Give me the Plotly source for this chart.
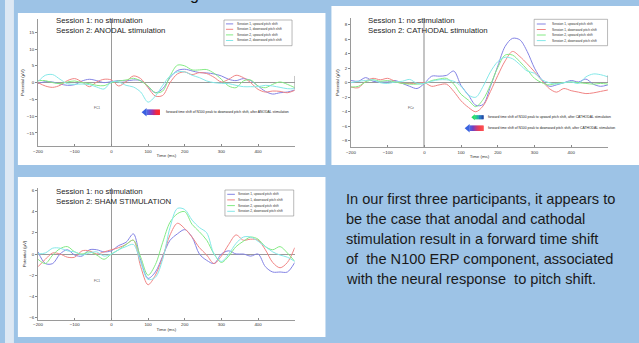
import plotly.graph_objects as go

W, H = 639, 343

# ---------------- data ----------------
time_ms = list(range(-200, 501, 20))

anodal_s1_up = [-0.3, 0.3, 0.2, -0.4, -0.8, -0.6, 0.5, 1.0, 0.6, 0.0, 0.3, 0.6, 0.5, 0.8, 0.6, -1.2, -3.0, -1.8,
                1.5, 3.6, 4.0, 3.5, 3.0, 2.9, 2.6, 2.0, 1.0, 0.6, 1.2, 0.6, -1.0, -2.6, -3.4, -3.0, -2.8, -2.2]
anodal_s1_down = [0.0, -1.0, -1.4, -0.8, 0.6, 1.2, 0.2, -1.2, 0.2, 1.0, 0.8, -1.0, 0.3, 2.0, 1.2, -1.5, -4.0, -3.8,
                  0.0, 2.6, 3.2, 2.4, 3.0, 2.7, 1.6, 0.2, 1.0, 2.2, 1.5, 0.0, -2.0, -2.8, -2.5, -2.6, -3.0, -2.3]
anodal_s2_up = [0.6, 0.6, 0.0, -0.3, 0.2, 0.5, 0.0, -0.3, -0.8, -0.9, 0.0, 0.5, 0.8, 1.3, 0.5, -1.0, -3.0, -2.5,
                2.0, 5.2, 5.0, 3.8, 3.8, 3.9, 2.8, 1.0, -1.0, -1.5, 0.5, 0.8, -1.0, -1.5, -0.5, 0.2, -0.5, -1.5]
anodal_s2_down = [0.3, 2.2, 2.4, 1.0, -0.3, -0.5, -0.4, -0.6, -1.3, -1.9, 0.2, 0.2, -0.8, -1.3, -2.8, -5.8, -4.0, -0.8,
                  2.0, 3.2, 3.2, 2.2, 1.5, 0.5, 0.0, -0.2, -0.3, -0.8, -1.2, -1.2, -1.2, -0.8, -1.0, -1.4, -1.8, -1.8]

cathodal_s1_up = [0.3, 0.2, 0.7, 0.2, 0.1, 0.1, 0.3, -0.1, -0.5, -0.8, -0.1, 0.9, 0.9, 1.0, 1.6, -0.4, -1.7, -3.1,
                  -3.0, -0.5, 2.3, 5.0, 6.1, 5.9, 4.3, 2.0, 0.4, -0.5, -0.3, 0.0, 0.3, 0.1, 0.5, -0.2, -0.5, -0.3]
cathodal_s1_down = [-0.6, -0.7, 0.2, 0.6, 0.4, 0.6, 0.2, -0.1, -0.1, -0.1, 0.0, -0.5, -0.3, -0.2, -1.2, -2.5, -3.4, -4.0,
                    -3.2, -1.2, 1.0, 3.0, 4.3, 3.6, 2.6, 1.5, 0.3, -0.8, -1.3, -0.8, -1.1, -1.3, -1.5, -1.4, -1.2, -1.0]
cathodal_s2_up = [-0.6, -0.5, 0.1, 0.4, 0.2, 0.3, 0.1, -0.1, -0.2, -0.2, -0.1, 0.3, 0.5, 0.6, -0.2, -1.6, -2.4, -3.3,
                  -2.3, -0.3, 2.1, 3.8, 3.8, 2.9, 1.8, 0.6, 0.0, -0.3, -0.1, 0.0, 0.1, 0.0, -0.1, -0.2, -0.1, -0.2]
cathodal_s2_down = [0.0, 0.2, 0.3, 0.4, 0.0, -0.1, 0.1, 0.2, 0.45, -0.1, -0.1, 0.2, 0.4, 0.4, 0.2, -0.5, -1.7, -2.0,
                    -0.5, 1.5, 2.9, 3.5, 3.3, 2.5, 1.6, 1.3, 0.4, 0.0, -0.2, 0.0, 0.1, -0.1, 0.8, 1.2, 1.1, 0.8]

sham_s1_up = [0.2, -0.9, -0.9, 0.0, 0.4, -0.1, -0.2, 0.4, 0.4, 0.2, 0.3, 0.8, 1.1, 1.9, -0.6, -2.3, -1.7, -0.2,
              1.3, 1.9, 2.3, 1.6, 0.0, -0.6, -0.9, 0.0, 0.3, 0.0, 0.0, -0.2, 0.0, -1.2, -1.7, -1.7, -1.7, -0.8]
sham_s1_down = [-1.2, -0.5, 0.1, 0.0, -0.3, -0.3, 0.3, 0.3, 0.0, 0.2, 0.4, 0.6, 0.9, 1.3, -1.2, -2.9, -2.0, -0.3,
                1.8, 2.9, 2.4, 1.6, 0.6, -0.1, -0.9, -0.2, 0.9, 1.8, 1.3, 1.4, 1.3, 0.4, -0.8, -1.3, -0.8, 0.6]
sham_s2_up = [-0.5, -0.9, -0.1, 0.5, 0.7, 0.2, 0.0, 0.2, -0.1, -0.5, 0.0, 0.4, 0.9, 1.3, -0.3, -2.0, -1.0, 1.1,
              3.0, 3.8, 4.0, 2.8, 2.1, 1.3, 0.0, -0.8, -0.2, 0.7, 1.2, 1.6, 1.4, 0.7, 0.4, 0.7, 0.1, -0.7]
sham_s2_down = [0.0, 0.1, 0.55, 0.55, 0.3, 0.2, -0.1, 0.1, 0.2, -0.2, 0.0, 0.4, 0.7, 0.9, -0.8, -2.4, -2.2, -0.5,
                2.5, 4.3, 4.2, 3.2, 2.5, 2.0, 0.0, -0.7, 0.0, 1.0, 1.6, 1.6, 1.2, 0.7, 0.2, -0.1, -0.3, -0.7]

series_names = ["Session 1, upward pitch shift", "Session 1, downward pitch shift",
                "Session 2, upward pitch shift", "Session 2, downward pitch shift"]
series_colors = ["#8383e4", "#f08484", "#84ea84", "#84e8e8"]

x_ticks = [-200, -100, 0, 100, 200, 300, 400]
y_ticks_anodal = [-15, -10, -5, 0, 5, 10, 15]
y_ticks_cathodal = [-8, -6, -4, -2, 0, 2, 4, 6, 8]
y_ticks_sham = [-6, -4, -2, 0, 2, 4, 6]

body_lines = ["In our first three participants, it appears to",
              "be the case that anodal and cathodal",
              "stimulation result in a forward time shift",
              "of  the N100 ERP component, associated",
              "with the neural response  to pitch shift."]

# ---------------- layout helpers ----------------
FONT = "Liberation Sans, Arial, sans-serif"
BG = "#9dc3e6"


def fx(p):
    return p / W


def fy(p):
    return 1 - p / H


panels = [
    dict(key="", data=[anodal_s1_up, anodal_s1_down, anodal_s2_up, anodal_s2_down],
         yr=[-19, 19], yt=y_ticks_anodal, dom_x=(33.3, 292.0), dom_y=(18.9, 146.4),
         head=("Session 1: no stimulation", "Session 2: ANODAL stimulation"), head_xy=(49, 20.7, 30.2),
         legend=(220.7, 20.0, 289.3, 45.7, 222.7, 230.0, 232.0, [23.9, 29.3, 34.9, 40.5]),
         chan=("FC1", 93, 108), zlw=1, zlc="#9a9a9a"),
    dict(key="2", data=[cathodal_s1_up, cathodal_s1_down, cathodal_s2_up, cathodal_s2_down],
         yr=[-8.9, 8.9], yt=y_ticks_cathodal, dom_x=(348.7, 607.7), dom_y=(18.0, 147.4),
         head=("Session 1: no stimulation", "Session 2: CATHODAL stimulation"), head_xy=(364, 20.7, 30.2),
         legend=(533.3, 19.3, 607.3, 45.7, 536.0, 545.0, 549.0, [24.0, 29.5, 35.0, 40.6]),
         chan=("FCz", 409, 108), zlw=2, zlc="#c4c4c4"),
    dict(key="3", data=[sham_s1_up, sham_s1_down, sham_s2_up, sham_s2_down],
         yr=[-6.2, 6.2], yt=y_ticks_sham, dom_x=(33.3, 292.0), dom_y=(188.3, 319.7),
         head=("Session 1: no stimulation", "Session 2: SHAM STIMULATION"), head_xy=(49, 191.0, 201.0),
         legend=(221.7, 190.0, 291.0, 216.0, 224.0, 231.7, 233.3, [194.3, 199.9, 205.6, 211.3]),
         chan=("FC1", 93, 281), zlw=1, zlc="#9a9a9a"),
]

fig = go.Figure()
shapes = []
annotations = []

# background pieces
shapes.append(dict(type="rect", xref="paper", yref="paper", x0=0, x1=fx(9), y0=0, y1=1,
                   fillcolor="#dde8f4", line_width=0, layer="below"))
for (x0, y0, x1, y1) in [(13, 13, 323, 165), (329, 6, 639, 165), (13, 177, 323, 337)]:
    shapes.append(dict(type="rect", xref="paper", yref="paper", x0=fx(x0), x1=fx(x1), y0=fy(y1), y1=fy(y0),
                       fillcolor="white", line_width=0, layer="below"))

layout_axes = {}
for p in panels:
    k = p["key"]
    xa, ya = "x" + k, "y" + k
    for vals, name, col in zip(p["data"], series_names, series_colors):
        fig.add_trace(go.Scatter(x=time_ms, y=vals, mode="lines", name=name, showlegend=False,
                                 line=dict(color=col, width=1, shape="spline", smoothing=0.9),
                                 xaxis=xa, yaxis=ya, hoverinfo="skip"))
    layout_axes["xaxis" + k] = dict(
        domain=[fx(p["dom_x"][0]), fx(p["dom_x"][1])], anchor=ya, range=[-200, 500],
        tickvals=x_ticks, ticks="inside", ticklen=2, tickcolor="#888", tickwidth=0.6,
        showline=True, linecolor="#9a9a9a", linewidth=1, showgrid=False,
        zeroline=True, zerolinecolor=p["zlc"], zerolinewidth=p["zlw"],
        tickfont=dict(size=4.4, color="#333", family=FONT),
        title=dict(text="Time (ms)", font=dict(size=4.4, color="#333", family=FONT), standoff=1))
    layout_axes["yaxis" + k] = dict(
        domain=[fy(p["dom_y"][1]), fy(p["dom_y"][0])], anchor=xa, range=p["yr"],
        tickvals=p["yt"], ticks="outside", ticklen=2, tickcolor="#888", tickwidth=0.6,
        showline=True, linecolor="#9a9a9a", linewidth=1, showgrid=False,
        zeroline=True, zerolinecolor="#9a9a9a", zerolinewidth=1,
        tickfont=dict(size=4.4, color="#333", family=FONT),
        title=dict(text="Potential (µV)", font=dict(size=4.4, color="#333", family=FONT), standoff=2))

    # heading text
    hx, hy1, hy2 = p["head_xy"]
    for txt, yy in zip(p["head"], (hy1, hy2)):
        annotations.append(dict(text=txt, xref="paper", yref="paper", x=fx(hx), y=fy(yy),
                                xanchor="left", yanchor="middle", showarrow=False,
                                font=dict(size=7.8, color="#1e1e1e", family=FONT)))
    # legend box
    lx0, ly0, lx1, ly1, sx0, sx1, tx, rows = p["legend"]
    shapes.append(dict(type="rect", xref="paper", yref="paper", x0=fx(lx0), x1=fx(lx1), y0=fy(ly1), y1=fy(ly0),
                       fillcolor="white", line=dict(color="#8a8a8a", width=0.6)))
    for name, col, ry in zip(series_names, series_colors, rows):
        shapes.append(dict(type="line", xref="paper", yref="paper", x0=fx(sx0), x1=fx(sx1), y0=fy(ry), y1=fy(ry),
                           line=dict(color=col, width=1)))
        annotations.append(dict(text=name, xref="paper", yref="paper", x=fx(tx), y=fy(ry),
                                xanchor="left", yanchor="middle", showarrow=False,
                                font=dict(size=3.2, color="#333", family=FONT)))
    # channel label
    cn, cx, cy = p["chan"]
    annotations.append(dict(text=cn, xref="paper", yref="paper", x=fx(cx), y=fy(cy),
                            xanchor="center", yanchor="middle", showarrow=False,
                            font=dict(size=3.2, color="#555", family=FONT)))

# small end markers on zero lines
shapes.append(dict(type="line", xref="x", yref="y", x0=500, x1=500, y0=-2, y1=2,
                   line=dict(color="#9a9a9a", width=1)))
shapes.append(dict(type="line", xref="x2", yref="y2", x0=500, x1=500, y0=0, y1=1,
                   line=dict(color="#9a9a9a", width=1)))


# gradient arrows (decoration)
def hex2rgb(h):
    h = h.lstrip("#")
    return tuple(int(h[i:i + 2], 16) for i in (0, 2, 4))


def interp(stops, f):
    n = len(stops) - 1
    pos = f * n
    i = min(int(pos), n - 1)
    r = pos - i
    a, b = hex2rgb(stops[i]), hex2rgb(stops[i + 1])
    return "rgb(%d,%d,%d)" % tuple(round(a[j] + (b[j] - a[j]) * r) for j in range(3))


def gradient_arrow(tip, end, yc, body_h, head_len, head_h, stops, n=14):
    base = tip + head_len
    path = "M %f,%f L %f,%f L %f,%f Z" % (fx(tip), fy(yc), fx(base), fy(yc - head_h / 2), fx(base), fy(yc + head_h / 2))
    shapes.append(dict(type="path", xref="paper", yref="paper", path=path,
                       fillcolor=interp(stops, 0), line_width=0))
    seg = (end - base) / n
    for i in range(n):
        shapes.append(dict(type="rect", xref="paper", yref="paper",
                           x0=fx(base + i * seg - 0.2), x1=fx(base + (i + 1) * seg + 0.2),
                           y0=fy(yc + body_h / 2), y1=fy(yc - body_h / 2),
                           fillcolor=interp(stops, (i + 0.5) / n), line_width=0))


gradient_arrow(137.7, 156.0, 112.3, 5.5, 5.0, 8.5, ["#3a5fe0", "#5a3fcf", "#a82e9e", "#ee2a44", "#ff2a2a"])
gradient_arrow(470.0, 482.3, 117.3, 4.0, 3.5, 6.0, ["#22dd66", "#19baa0", "#1d70c2", "#1f3f9a"])
gradient_arrow(463.3, 482.3, 128.3, 5.5, 5.0, 8.5, ["#3a63e0", "#6032c2", "#c02a70", "#f03040", "#ff4040"])

for txt, x, y in [("forward time shift of N100 peak to downward pitch shift, after ANODAL stimulation", 160.0, 112.3),
                  ("forward time shift of N100 peak to upward pitch shift, after CATHODAL stimulation", 485.0, 117.3),
                  ("forward time shift of N100 peak to downward pitch shift, after CATHODAL stimulation", 485.0, 128.3)]:
    annotations.append(dict(text=txt, xref="paper", yref="paper", x=fx(x), y=fy(y),
                            xanchor="left", yanchor="middle", showarrow=False,
                            font=dict(size=3.4, color="#222", family=FONT)))

# body text
for i, line in enumerate(body_lines):
    annotations.append(dict(text=line, xref="paper", yref="paper", x=fx(341.5), y=fy(199.0 + 20 * i),
                            xanchor="left", yanchor="middle", showarrow=False,
                            font=dict(size=14.6, color="#1a1a1a", family="Liberation Sans, Arial, sans-serif")))

# cut-off title descender at the top
annotations.append(dict(text="g", xref="paper", yref="paper", x=fx(191), y=fy(-5.5),
                        xanchor="center", yanchor="middle", showarrow=False,
                        font=dict(size=16, color="#111", family=FONT)))

fig.update_layout(width=W, height=H, margin=dict(l=0, r=0, t=0, b=0),
                  paper_bgcolor=BG, plot_bgcolor="rgba(0,0,0,0)",
                  shapes=shapes, annotations=annotations, showlegend=False, **layout_axes)

fig.write_html("out.html", config={"displayModeBar": False},
               post_script="document.body.style.margin='0px';document.body.style.overflow='hidden';")
